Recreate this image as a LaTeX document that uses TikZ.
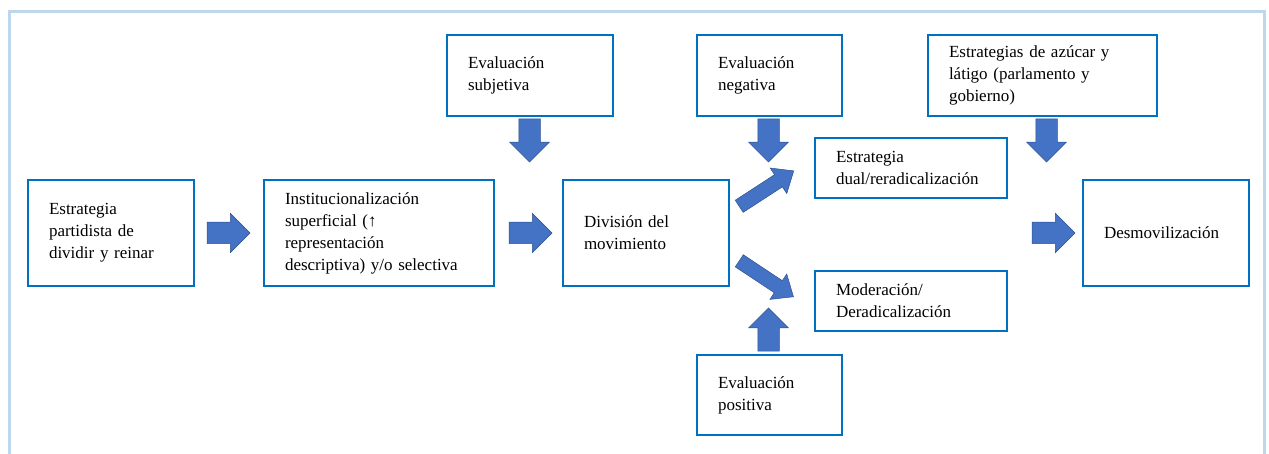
\documentclass[tikz,border=0pt]{standalone}
\usepackage{fontspec}
\setmainfont{Liberation Serif}
\usetikzlibrary{shapes.arrows}
\definecolor{framecol}{RGB}{189,215,238}
\definecolor{boxcol}{RGB}{0,112,192}
\definecolor{arrowfill}{RGB}{68,114,196}
\definecolor{arrowedge}{RGB}{47,82,143}
\tikzset{
  box/.style={draw=boxcol, line width=2pt, fill=white, align=left,
    inner xsep=21pt, inner ysep=0pt, outer sep=0pt,
    font=\fontsize{17}{22}\selectfont},
  harrow/.style={single arrow, fill=arrowfill, draw=arrowedge, line width=0.5pt,
    inner xsep=0pt, inner ysep=10.5pt, minimum height=43pt, outer sep=0pt,
    single arrow head extend=9pt, single arrow tip angle=90, anchor=tail},
  darrow/.style={single arrow, fill=arrowfill, draw=arrowedge, line width=0.5pt,
    inner xsep=0pt, inner ysep=7pt, minimum height=65pt, outer sep=0pt,
    single arrow head extend=8pt, single arrow tip angle=80, anchor=tail},
}
\begin{document}
\begin{tikzpicture}[x=1pt,y=-1pt]
\useasboundingbox (0,0) rectangle (1269,454);
\clip (0,0) rectangle (1269,454);
\coordinate (fbl) at (9,470);
\coordinate (ftl) at (9,12);
\coordinate (ftr) at (1264,12);
\coordinate (fbr) at (1264,470);
\draw[framecol, line width=3pt] (fbl) -- (ftl) -- (ftr) -- (fbr);

\node[box, text width=124pt, minimum height=106pt] (b1) at (111,233)
  {Estrategia\\partidista de\\dividir y reinar};
\node[box, text width=188pt, minimum height=106pt] (b2) at (379,233)
  {Institucionalización\\superficial (↑\\representación\\descriptiva) y/o selectiva};
\node[box, text width=124pt, minimum height=81pt] (b3) at (530,75.5)
  {Evaluación\\subjetiva};
\node[box, text width=124pt, minimum height=106pt] (b4) at (646,233)
  {División del\\movimiento};
\node[box, text width=103pt, minimum height=81pt] (b5) at (769.5,75.5)
  {Evaluación\\negativa};
\node[box, text width=187pt, minimum height=81pt] (b6) at (1042.5,75.5)
  {Estrategias de azúcar y\\látigo (parlamento y\\gobierno)};
\node[box, text width=150pt, minimum height=60pt] (b7) at (911,168)
  {Estrategia\\dual/reradicalización};
\node[box, text width=150pt, minimum height=60pt] (b8) at (911,301)
  {Moderación/\\Deradicalización};
\node[box, text width=103pt, minimum height=80pt] (b9) at (769.5,395)
  {Evaluación\\positiva};
\node[box, text width=124pt, minimum height=106pt] (b10) at (1166,233)
  {Desmovilización};

\node[harrow] (a1) at (207,233) {};
\node[harrow] (a2) at (509,233) {};
\node[harrow, rotate=-90] (a3) at (529.5,119) {};
\node[harrow, rotate=-90] (a4) at (768.5,119) {};
\node[harrow, rotate=-90] (a5) at (1046.5,119) {};
\node[harrow] (a6) at (1032,233) {};
\node[harrow, rotate=90] (a7) at (768.5,351) {};
\node[darrow, rotate=33] (a8) at (739.2,206.3) {};
\node[darrow, rotate=-33.6] (a9) at (739.3,260.8) {};
\end{tikzpicture}
\end{document}
